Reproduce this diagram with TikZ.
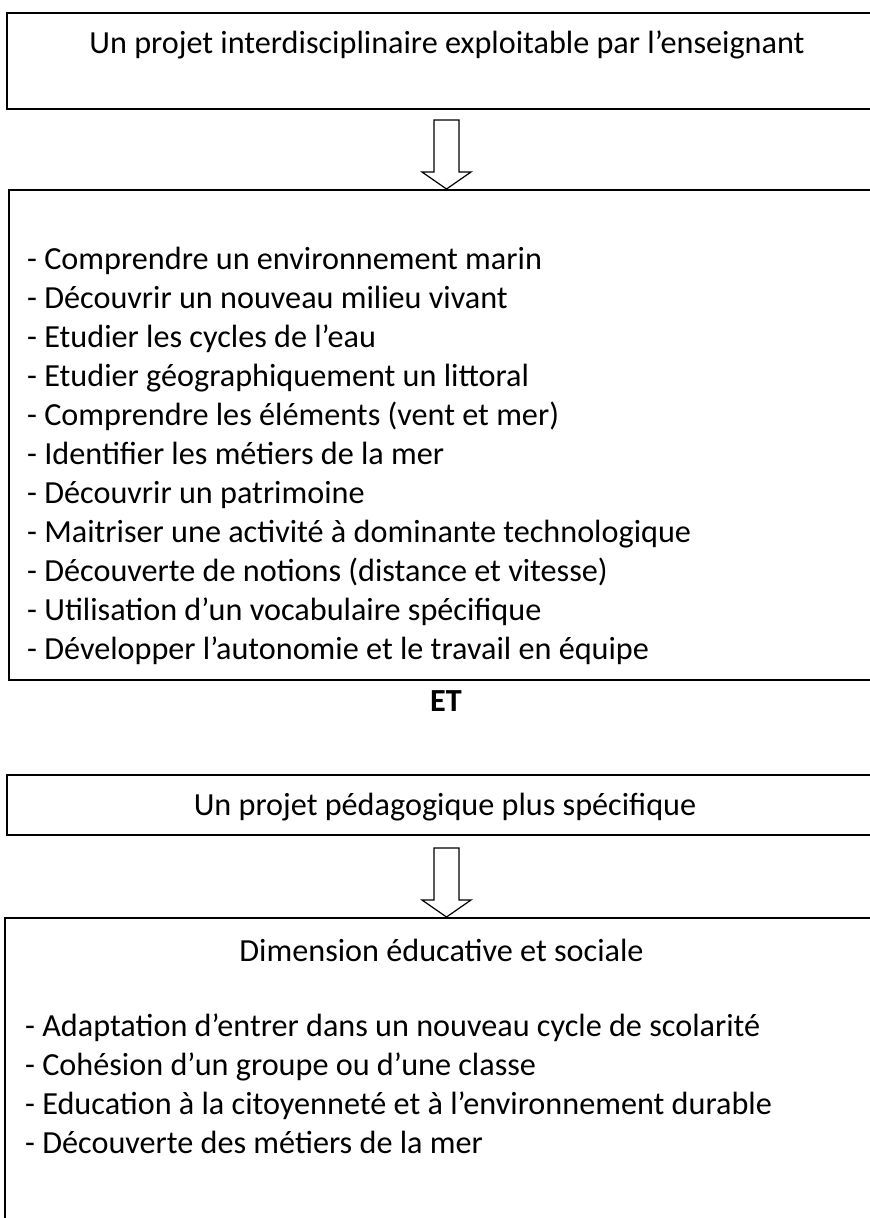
\documentclass[tikz,border=0pt]{standalone}
\usepackage{fontspec}
\setmainfont{Carlito}
\begin{document}
\begin{tikzpicture}[x=1pt,y=-1pt,
  box/.style={draw, line width=2pt, inner sep=0pt, anchor=north west},
  txt/.style={inner sep=0pt, font=\fontsize{32.2}{39}\selectfont},
  blockarrow/.style={draw, line width=1.2pt, line join=miter, fill=white}]
\useasboundingbox (0,0) rectangle (870,1218);
\begin{scope}
\clip (0,0) rectangle (870,1218);
% boxes
\node[box, minimum width=900pt, minimum height=96pt] (b1) at (6,12) {};
\node[box, minimum width=900pt, minimum height=490pt] (b2) at (8,189) {};
\node[box, minimum width=900pt, minimum height=60pt] (b3) at (6,774) {};
\node[box, minimum width=900pt, minimum height=400pt] (b4) at (4,917) {};
\end{scope}
% titles
\node[txt, anchor=base] (t1) at (447,53) {Un projet interdisciplinaire exploitable par l’enseignant};
\node[txt, anchor=base] (t3) at (445,815) {Un projet pédagogique plus spécifique};
\node[txt, anchor=base] (t4) at (441.5,961) {Dimension éducative et sociale};
\node[txt, anchor=base, font=\fontsize{32.2}{39}\selectfont\bfseries] (et) at (446,711) {ET};
% list 1
\foreach \s [count=\i from 0] in {%
  {- Comprendre un environnement marin},
  {- Découvrir un nouveau milieu vivant},
  {- Etudier les cycles de l’eau},
  {- Etudier géographiquement un littoral},
  {- Comprendre les éléments (vent et mer)},
  {- Identifier les métiers de la mer},
  {- Découvrir un patrimoine},
  {- Maitriser une activité à dominante technologique},
  {- Découverte de notions (distance et vitesse)},
  {- Utilisation d’un vocabulaire spécifique},
  {- Développer l’autonomie et le travail en équipe}}
  \node[txt, anchor=base west] (la\i) at (27,{269+39*\i}) {\s};
% list 2
\foreach \s [count=\i from 0] in {%
  {- Adaptation d’entrer dans un nouveau cycle de scolarité},
  {- Cohésion d’un groupe ou d’une classe},
  {- Education à la citoyenneté et à l’environnement durable},
  {- Découverte des métiers de la mer}}
  \node[txt, anchor=base west] (lb\i) at (25,{1036+39*\i}) {\s};
% block arrows
\foreach \a/\b in {b1/b2, b3/b4} {
  \path (\b.north -| 446.5,0) coordinate (tip-\a);
  \draw[blockarrow] ([shift={(-12.5,-69)}]tip-\a) -- ([shift={(12.5,-69)}]tip-\a)
    -- ([shift={(12.5,-17)}]tip-\a) -- ([shift={(24.5,-17)}]tip-\a)
    -- (tip-\a) -- ([shift={(-24.5,-17)}]tip-\a)
    -- ([shift={(-12.5,-17)}]tip-\a) -- cycle;
}
\end{tikzpicture}
\end{document}
